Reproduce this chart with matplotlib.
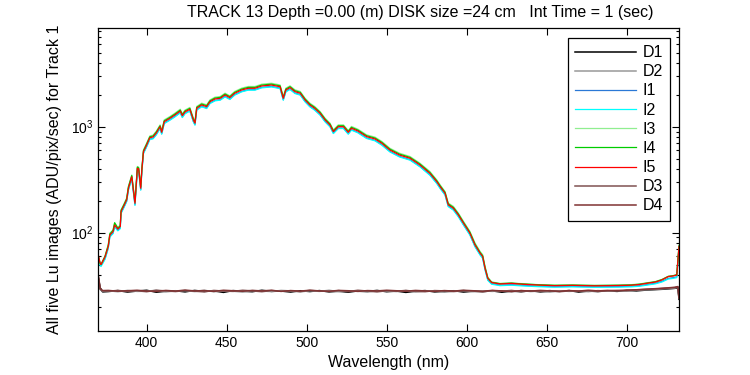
import matplotlib
matplotlib.use("Agg")
import matplotlib.pyplot as plt
from matplotlib.ticker import LogLocator, NullFormatter

plt.rcParams['font.family'] = ['Liberation Sans', 'DejaVu Sans']

# wavelength grid (nm) for the five Lu images
wl_i = [369.6, 370.9, 371.5, 374, 376, 377, 379, 380, 382, 383.5,
        384, 386, 387.5, 388.6, 390.7, 391.7, 392.7, 394.2, 395, 396.3,
        397, 398, 400, 402, 404, 406, 408.4, 409.4, 411, 414.6,
        417.7, 421, 422.3, 424, 427, 429.2, 430.2, 431.3, 434.4, 437.5,
        439.6, 442.7, 446, 449, 452, 455, 459.4, 463.5, 467.7, 471.9,
        478, 483.4, 485.4, 487, 489.6, 492.7, 496, 499, 502, 505,
        508.4, 511.5, 514.6, 516.7, 519.8, 523, 526, 528, 532, 537.5,
        542.7, 547, 552, 558, 564.6, 570.8, 577, 581.3, 583.4, 586.5,
        588.5, 591.7, 594.8, 598, 602, 605.2, 608.4, 610, 611.5, 613.2,
        615.6, 620.8, 628, 635, 645, 655, 666, 680, 695, 703,
        708, 713.5, 718, 722, 726, 729, 731.3, 732.7]

I1 = [61, 50, 49, 57, 72, 92, 99, 115, 105, 111,
      153, 177, 198, 254, 327, 245, 183, 393, 388, 254,
      378, 563, 652, 763, 776, 844, 970, 858, 1081, 1164,
      1251, 1363, 1232, 1339, 1416, 1122, 1045, 1447, 1555, 1499,
      1670, 1770, 1797, 1931, 1824, 2004, 2153, 2233, 2233, 2347,
      2396, 2309, 1795, 2153, 2265, 2076, 2004, 1732, 1555, 1447,
      1297, 1122, 1006, 870, 970, 970, 858, 937, 884, 781,
      743, 676, 584, 524, 488, 422, 352, 294, 264, 228,
      178, 165, 143, 119, 96, 74.5, 62, 58, 45, 36,
      33, 32, 32.3, 31.8, 31.2, 30.9, 31.1, 30.8, 31, 31.2,
      31.6, 32.5, 33.3, 34.7, 37, 37.6, 38.3, 72]

I2 = [60, 49, 48, 56, 71, 91, 98, 113, 104, 109,
      152, 175, 196, 252, 324, 243, 181, 389, 384, 252,
      374, 557, 645, 756, 768, 835, 960, 850, 1069, 1152,
      1238, 1349, 1219, 1325, 1402, 1111, 1034, 1432, 1539, 1483,
      1653, 1752, 1779, 1911, 1805, 1983, 2131, 2210, 2210, 2323,
      2371, 2285, 1776, 2131, 2242, 2054, 1983, 1715, 1539, 1432,
      1284, 1111, 996, 861, 960, 960, 850, 927, 875, 773,
      735, 669, 578, 518, 483, 418, 348, 291, 261, 226,
      176, 163, 141, 118, 95, 73.5, 61.5, 57, 44.5, 35.5,
      32.6, 31.6, 31.9, 31.4, 30.9, 30.6, 30.8, 30.5, 30.6, 30.8,
      31.2, 32.1, 32.9, 34.2, 36.5, 37, 37.6, 70]

I3 = [61, 51, 50, 60, 77, 99, 106, 123, 112, 118,
      164, 189, 212, 272, 350, 263, 197, 421, 416, 272,
      405, 603, 699, 818, 832, 905, 1040, 920, 1159, 1248,
      1342, 1461, 1321, 1435, 1518, 1203, 1120, 1552, 1667, 1607,
      1791, 1898, 1927, 2071, 1955, 2149, 2309, 2394, 2394, 2517,
      2569, 2475, 1924, 2309, 2428, 2226, 2149, 1857, 1667, 1552,
      1390, 1203, 1078, 933, 1040, 1040, 920, 1005, 947, 837,
      797, 725, 626, 562, 523, 452, 378, 315, 283, 244,
      190, 177, 153, 128, 103, 80, 66.5, 62, 48, 38,
      34.3, 33.2, 33.5, 33, 32.3, 32, 32.1, 31.8, 32, 32.3,
      32.8, 33.8, 34.6, 36.2, 38.8, 39.3, 40.2, 76]

I4 = [62, 51, 50, 60, 76, 97, 105, 124, 110, 116,
      162, 186, 208, 270, 345, 258, 195, 415, 408, 270,
      398, 592, 686, 803, 816, 888, 1020, 903, 1136, 1224,
      1316, 1433, 1295, 1408, 1489, 1180, 1099, 1522, 1635, 1576,
      1756, 1862, 1890, 2031, 1918, 2107, 2264, 2348, 2348, 2468,
      2519, 2428, 1887, 2264, 2382, 2183, 2107, 1822, 1635, 1522,
      1364, 1180, 1058, 915, 1020, 1020, 903, 985, 929, 821,
      781, 711, 614, 551, 513, 444, 370, 309, 277, 240,
      187, 173, 150, 125, 101, 78, 65, 60.5, 47, 37.5,
      34, 33, 33.4, 32.8, 32.2, 31.8, 32, 31.7, 31.9, 32.1,
      32.6, 33.6, 34.4, 36, 38.6, 39.2, 40, 75]

I5 = [63, 52, 50, 59, 74, 95, 102, 118, 108, 114,
      158, 182, 204, 262, 337, 253, 189, 405, 400, 262,
      390, 580, 672, 787, 800, 870, 1000, 885, 1114, 1200,
      1290, 1405, 1270, 1380, 1460, 1157, 1077, 1492, 1603, 1545,
      1722, 1825, 1853, 1991, 1880, 2066, 2220, 2302, 2302, 2420,
      2470, 2380, 1850, 2220, 2335, 2140, 2066, 1786, 1603, 1492,
      1337, 1157, 1037, 897, 1000, 1000, 885, 966, 911, 805,
      766, 697, 602, 540, 503, 435, 363, 303, 272, 235,
      183, 170, 147, 123, 99, 76.5, 64, 59.5, 46, 37,
      33.8, 32.8, 33.2, 32.6, 32.0, 31.6, 31.8, 31.5, 31.7, 31.9,
      32.4, 33.4, 34.2, 35.8, 38.5, 39.0, 39.8, 74]

# wavelength grid (nm) for the dark images
wl_d = [369.6, 371, 372.5,
        376, 382, 388, 394, 400, 406, 412, 418, 424, 430,
        436, 442, 448, 454, 460, 466, 472, 478, 484, 490,
        496, 502, 508, 514, 520, 526, 532, 538, 544, 550,
        556, 562, 568, 574, 580, 586, 592, 598, 604, 610,
        616, 622, 628, 634, 640, 646, 652, 658, 664, 670,
        676, 682, 688, 694, 700, 706, 712, 718, 724, 730,
        732, 732.7]

D1 = [40, 29.5, 27.6,
      27.8, 28.4, 27.5, 28.1, 28.6, 27.4, 28.0, 28.3, 27.6, 28.5,
      27.9, 28.2, 27.3, 28.4, 28.0, 27.7, 28.6, 27.9, 28.1, 27.5,
      28.3, 27.8, 28.4, 27.6, 28.0, 27.4, 28.2, 27.9, 28.5, 27.7,
      28.1, 27.3, 28.0, 28.4, 27.6, 27.9, 28.3, 27.5, 28.0, 27.8,
      28.2, 27.4, 28.1, 27.7, 28.3, 27.6, 28.0, 27.9, 28.4, 27.5,
      28.1, 27.8, 28.3, 27.9, 28.5, 28.2, 28.7, 29.0, 29.3, 29.8,
      30.2, 23.5]

D2 = [38, 29, 28.0,
      28.3, 27.7, 28.5, 27.9, 28.0, 28.6, 27.6, 28.2, 28.4, 27.8,
      28.6, 27.7, 28.3, 28.0, 27.5, 28.4, 28.1, 27.8, 28.5, 28.2,
      27.6, 28.3, 27.9, 28.6, 27.7, 28.2, 28.0, 27.5, 28.3, 28.1,
      27.8, 28.4, 27.6, 28.1, 28.3, 27.4, 28.0, 28.5, 27.7, 28.2,
      27.9, 28.3, 27.6, 28.4, 27.8, 28.1, 27.5, 28.3, 27.9, 28.2,
      27.7, 28.4, 28.0, 28.3, 28.1, 28.6, 28.9, 29.2, 29.6, 30.0,
      30.6, 25]

D3 = [39, 29.2, 28.2,
      28.0, 28.5, 27.9, 28.3, 27.7, 28.6, 28.2, 27.8, 28.4, 28.0,
      27.6, 28.5, 28.1, 27.9, 28.6, 28.2, 27.7, 28.4, 28.0, 28.3,
      27.8, 28.5, 28.1, 27.9, 28.4, 27.8, 28.6, 28.1, 27.6, 28.3,
      28.0, 28.5, 27.9, 27.7, 28.4, 28.2, 27.8, 28.3, 28.1, 27.6,
      28.4, 28.0, 28.5, 27.8, 28.2, 27.9, 28.4, 27.7, 28.2, 28.0,
      28.3, 27.9, 28.2, 28.5, 28.3, 28.8, 29.1, 29.4, 29.9, 30.3,
      30.8, 24]

D4 = [41, 29.8, 28.4,
      28.5, 28.0, 28.3, 28.6, 28.1, 27.9, 28.5, 28.1, 28.7, 28.2,
      28.4, 27.9, 28.6, 28.3, 28.0, 28.5, 28.2, 28.6, 27.9, 28.4,
      28.1, 28.6, 28.2, 28.0, 28.5, 28.3, 27.9, 28.4, 28.2, 28.6,
      28.3, 28.0, 28.5, 28.2, 27.9, 28.4, 28.1, 28.6, 28.3, 28.0,
      28.5, 28.2, 27.8, 28.4, 28.1, 28.5, 28.2, 28.0, 28.4, 28.1,
      28.6, 28.2, 28.5, 28.3, 28.7, 28.9, 29.3, 29.6, 30.0, 30.5,
      31, 24.5]

series = [
    ("D1", wl_d, D1, "#000000"),
    ("D2", wl_d, D2, "#999999"),
    ("I1", wl_i, I1, "#2a78d6"),
    ("I2", wl_i, I2, "#00ffff"),
    ("I3", wl_i, I3, "#90ee90"),
    ("I4", wl_i, I4, "#00cc00"),
    ("I5", wl_i, I5, "#ff0000"),
    ("D3", wl_d, D3, "#805252"),
    ("D4", wl_d, D4, "#803333"),
]

fig = plt.figure(figsize=(7.5, 3.75), dpi=100)
ax = fig.add_axes([98 / 750, 44 / 375, 581 / 750, 303 / 375])

for name, x, y, c in series:
    ax.plot(x, y, color=c, lw=1.1 if name.startswith('D') else 0.9, label=name)

ax.set_yscale('log')
ax.set_xlim(369.6, 732.7)
ax.set_ylim(11.8, 8530)
ax.set_xticks([400, 450, 500, 550, 600, 650, 700])
ax.yaxis.set_major_locator(LogLocator(base=10))
ax.yaxis.set_minor_locator(LogLocator(base=10, subs=range(2, 10)))
ax.yaxis.set_minor_formatter(NullFormatter())

ax.tick_params(which='both', direction='in', top=True, right=True, labelsize=10)
ax.tick_params(which='major', length=5, width=0.8)
ax.tick_params(which='minor', length=2.5, width=0.8)
for s in ax.spines.values():
    s.set_linewidth(0.9)

ax.set_xlabel('Wavelength (nm)', fontsize=11.5, labelpad=4)
ax.set_ylabel('All five Lu images (ADU/pix/sec) for Track 1', fontsize=11.5, labelpad=6)
ax.set_title('TRACK 13 Depth =0.00 (m) DISK size =24 cm   Int Time = 1 (sec)',
             fontsize=11.5, x=0.554, pad=8)

leg = ax.legend(loc='upper right', bbox_to_anchor=(0.9845, 0.967), borderaxespad=0,
                fontsize=11.5, handlelength=3.8, labelspacing=0.26, handletextpad=0.4,
                fancybox=False, framealpha=1, edgecolor='black', borderpad=0.45)
leg.get_frame().set_linewidth(0.9)

fig.savefig('out.png', dpi=100)
